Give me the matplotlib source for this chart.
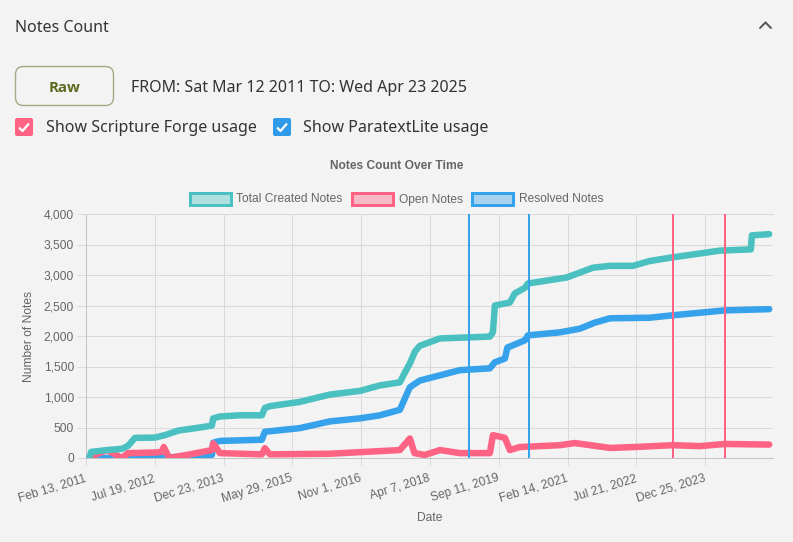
import matplotlib
matplotlib.use("Agg")
import matplotlib.pyplot as plt
import pandas as pd
from matplotlib.patches import FancyBboxPatch, Rectangle
from matplotlib.lines import Line2D
from matplotlib.ticker import FuncFormatter

W, H = 793, 542
PT = 0.72  # pixel -> point at dpi 100
BG = "#f3f3f3"

series_names = ["Total Created Notes", "Open Notes", "Resolved Notes"]
series_colors = ["#4bc0c0", "#ff6384", "#36a2eb"]
series_light = ["#b0dfdf", "#f8b9c7", "#a7d3f0"]

total_dates = ["2011-03-12", "2011-03-25", "2011-07-22", "2011-11-13", "2011-12-29", "2012-02-19",
               "2012-07-20", "2012-10-03", "2013-01-15", "2013-06-27", "2013-09-25", "2013-10-05",
               "2013-11-25", "2014-04-25", "2014-10-09", "2014-11-01", "2014-12-09", "2015-07-25",
               "2016-03-08", "2016-10-22", "2017-03-23", "2017-08-21", "2017-09-28", "2017-11-05",
               "2017-12-15", "2018-01-20", "2018-06-21", "2019-07-05", "2019-07-28", "2019-08-12",
               "2019-12-04", "2020-01-11", "2020-03-27", "2020-04-18", "2021-02-08", "2021-08-25",
               "2022-01-01", "2022-06-24", "2022-10-31", "2023-04-24", "2024-04-14", "2024-12-05",
               "2024-12-13", "2025-04-23"]
total_vals = [20, 100, 130, 150, 200, 330,
              335, 375, 450, 500, 530, 650,
              680, 700, 700, 820, 850, 920,
              1040, 1100, 1190, 1240, 1400, 1550,
              1750, 1840, 1960, 1990, 2060, 2500,
              2550, 2700, 2790, 2860, 2960, 3120,
              3150, 3150, 3230, 3290, 3400, 3420,
              3650, 3670]

open_dates = ["2011-03-12", "2011-05-01", "2011-07-22", "2011-11-13", "2011-12-29", "2012-07-20",
              "2012-09-10", "2012-09-25", "2012-11-05", "2013-04-11", "2013-09-25", "2013-10-05",
              "2013-11-25", "2014-10-09", "2014-11-01", "2014-12-09", "2016-03-08", "2017-08-21",
              "2017-11-05", "2017-12-10", "2018-02-27", "2018-06-21", "2018-11-20", "2019-07-05",
              "2019-07-28", "2019-10-27", "2019-12-04", "2020-02-18", "2020-12-17", "2021-04-10",
              "2022-01-01", "2022-07-09", "2023-04-24", "2023-11-15", "2024-05-22", "2025-04-23"]
open_vals = [0, 60, 130, 0, 80, 90,
             100, 180, 0, 60, 130, 240,
             80, 60, 160, 60, 70, 130,
             320, 80, 50, 130, 80, 80,
             375, 330, 130, 180, 210, 245,
             165, 180, 210, 195, 230, 220]

resolved_dates = ["2011-03-12", "2012-07-20", "2012-10-03", "2013-06-27", "2013-09-25", "2013-10-05",
                  "2013-11-25", "2014-10-09", "2014-11-01", "2015-07-25", "2016-03-08", "2016-10-22",
                  "2017-03-23", "2017-08-21", "2017-11-05", "2018-01-20", "2018-06-21", "2018-11-20",
                  "2019-07-05", "2019-08-12", "2019-10-27", "2019-11-15", "2020-03-27", "2020-04-18",
                  "2020-12-17", "2021-05-18", "2021-09-09", "2022-01-01", "2022-10-31", "2023-04-24",
                  "2024-05-22", "2025-04-23"]
resolved_vals = [0, 0, 10, 30, 50, 250,
                 280, 300, 430, 490, 600, 650,
                 700, 790, 1160, 1270, 1355, 1440,
                 1470, 1570, 1630, 1810, 1930, 2010,
                 2060, 2120, 2220, 2290, 2300, 2340,
                 2420, 2440]

paratextlite_marks = ["2019-01-27", "2020-04-26"]
scripture_forge_marks = ["2023-04-24", "2024-05-20"]

x_start, x_end = "2011-02-13", "2025-05-22"
tick_step_days = 522
y_ticks = [0, 500, 1000, 1500, 2000, 2500, 3000, 3500, 4000]

fig = plt.figure(figsize=(W / 100, H / 100), dpi=100, facecolor=BG)

# page overlay in pixel coordinates
ui = fig.add_axes([0, 0, 1, 1], zorder=0)
ui.set_xlim(0, W)
ui.set_ylim(H, 0)
ui.axis("off")
ui.patch.set_alpha(0)

uifont = "Noto Sans"
ui.text(15, 32, "Notes Count", fontsize=16 * PT, family=uifont, color="#333333", va="baseline")
ui.add_line(Line2D([760, 765.5, 771], [28, 22.5, 28], color="#555555", lw=1.4,
                   solid_capstyle="round", solid_joinstyle="miter"))
ui.add_patch(FancyBboxPatch((15.5, 66.5), 98, 39, boxstyle="round,pad=0,rounding_size=8",
                            facecolor="none", edgecolor="#a4a986", lw=1))
ui.text(64.5, 92, "Raw", fontsize=15 * PT, family=["Open Sans", "Noto Sans"], weight="bold",
        color="#5a6b1f", ha="center", va="baseline")
ui.text(131, 92, "FROM: Sat Mar 12 2011 TO: Wed Apr 23 2025", fontsize=16 * PT, family=uifont,
        color="#333333", va="baseline")

for bx, col, label, tx in [(15, "#ff6384", "Show Scripture Forge usage", 46),
                           (273, "#2f9ae8", "Show ParatextLite usage", 303)]:
    ui.add_patch(FancyBboxPatch((bx, 118), 18, 18, boxstyle="round,pad=0,rounding_size=2",
                                facecolor=col, edgecolor="none"))
    ui.add_line(Line2D([bx + 4, bx + 7.5, bx + 14], [127.5, 131, 123.5], color="white",
                       lw=1.6, solid_capstyle="butt"))
    ui.text(tx, 132.5, label, fontsize=16 * PT, family=uifont, color="#333333", va="baseline")

chartfont = "Liberation Sans"
ui.text(396.5, 169, "Notes Count Over Time", fontsize=12 * PT, family=chartfont, weight="bold",
        color="#666666", ha="center", va="baseline")
legend_x = [189.5, 352, 472]
for lx, name, col, light in zip(legend_x, series_names, series_colors, series_light):
    ui.add_patch(Rectangle((lx, 192.5), 41, 12, facecolor=light, edgecolor=col, lw=3 * PT))
    ui.text(lx + 47, 202.5, name, fontsize=12 * PT, family=chartfont, color="#666666", va="baseline")
ui.text(429.5, 521, "Date", fontsize=12 * PT, family=chartfont, color="#666666",
        ha="center", va="baseline")
ui.text(29, 336, "Number of Notes", fontsize=12 * PT, family=chartfont, color="#666666",
        ha="center", va="center", rotation=90)

# chart
ax = fig.add_axes([86 / W, 1 - 458 / H, (773 - 86) / W, (458 - 214) / H], zorder=2)
ax.patch.set_alpha(0)

data = [(total_dates, total_vals), (open_dates, open_vals), (resolved_dates, resolved_vals)]
zorders = [5, 4, 3]
for (d, v), col, z, name in zip(data, series_colors, zorders, series_names):
    ax.plot(pd.to_datetime(d), v, color=col, lw=6.5 * PT,
            solid_joinstyle="round", solid_capstyle="round", zorder=z, label=name)

for d in paratextlite_marks:
    ax.axvline(pd.Timestamp(d), color="#36a2eb", lw=2 * PT, zorder=6)
for d in scripture_forge_marks:
    ax.axvline(pd.Timestamp(d), color="#ff6384", lw=2 * PT, zorder=6)

ax.set_xlim(pd.Timestamp(x_start), pd.Timestamp(x_end))
ax.set_ylim(0, 4000)
xt = pd.date_range(x_start, periods=10, freq=f"{tick_step_days}D")
ax.set_xticks(xt)
ax.set_xticklabels([f"{t:%b} {t.day}, {t:%Y}" for t in xt], rotation=17, ha="right",
                   va="center", rotation_mode="anchor", family=chartfont, fontsize=12 * PT,
                   color="#666666")
ax.set_yticks(y_ticks)
ax.yaxis.set_major_formatter(FuncFormatter(lambda v, p: f"{int(v):,}"))
for lbl in ax.get_yticklabels():
    lbl.set_family(chartfont)
ax.tick_params(axis="y", length=9 * PT, width=1 * PT, color="#d9d9d9", pad=3 * PT,
               labelsize=12 * PT, labelcolor="#666666")
ax.tick_params(axis="x", length=7 * PT, width=1 * PT, color="#d9d9d9", pad=13 * PT,
               labelsize=12 * PT, labelcolor="#666666")
ax.grid(True, color="#d9d9d9", lw=1 * PT, zorder=0)
ax.set_axisbelow(True)
ax.spines["right"].set_visible(False)
ax.spines["top"].set_color("#d9d9d9")
ax.spines["top"].set_linewidth(1 * PT)
for s in ("left", "bottom"):
    ax.spines[s].set_color("#c4c4c4")
    ax.spines[s].set_linewidth(1 * PT)

fig.savefig("out.png", dpi=100, facecolor=BG)
